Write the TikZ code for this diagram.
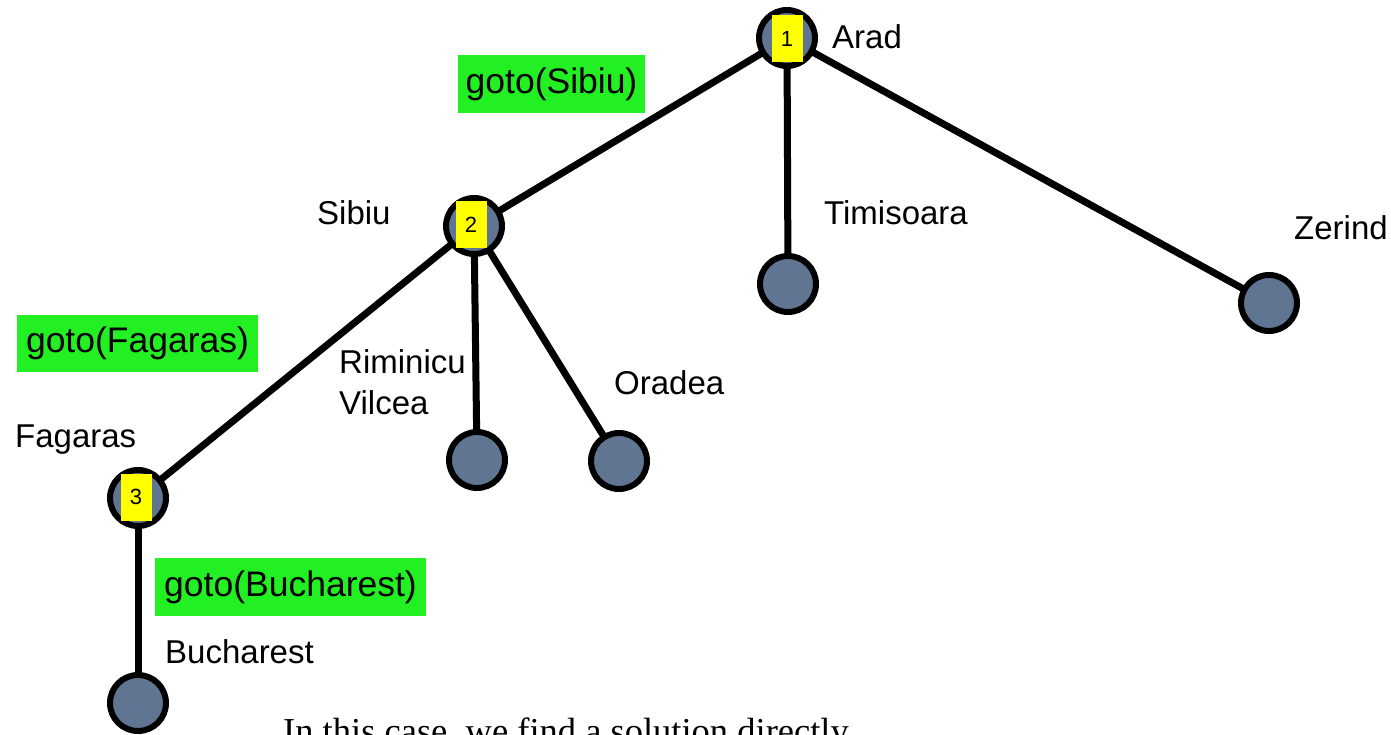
\documentclass[tikz,border=0pt]{standalone}
\usepackage{fontspec}
\setmainfont{Liberation Sans}
\newfontfamily\captionserif{Liberation Serif}
\definecolor{nodefill}{HTML}{5F7591}
\definecolor{actiongreen}{HTML}{22F022}
\definecolor{orderyellow}{HTML}{FFFF00}
\begin{document}
\begin{tikzpicture}[x=1pt,y=-1pt,
  city/.style={circle,draw=black,line width=6pt,fill=nodefill,minimum size=56pt,inner sep=0pt},
  edge/.style={line width=7pt,black},
  order/.style={fill=orderyellow,minimum width=31pt,minimum height=47pt,inner sep=0pt,font=\fontsize{22}{24}\selectfont},
  action/.style={fill=actiongreen,inner sep=0pt,font=\fontsize{35.5}{38}\selectfont},
  lbl/.style={font=\fontsize{33}{41}\selectfont,inner sep=0pt}]
\useasboundingbox (0,0) rectangle (1391,735);
\clip (0,0) rectangle (1391,735);

% tree nodes
\coordinate (aradC) at (787,38);
\coordinate (sibiuC) at (474,226);
\coordinate (timC) at (788,284);
\coordinate (zerC) at (1269,303);
\coordinate (rimC) at (477,460);
\coordinate (oraC) at (619,461);
\coordinate (fagC) at (138,498);
\coordinate (bucC) at (138,703);

% edges
\draw[edge] (aradC) -- (sibiuC);
\draw[edge] (aradC) -- (timC);
\draw[edge] (aradC) -- (zerC);
\draw[edge] (sibiuC) -- (rimC);
\draw[edge] (sibiuC) -- (oraC);
\draw[edge] (sibiuC) -- (fagC);
\draw[edge] (fagC) -- (bucC);

\node[city] (arad) at (aradC) {};
\node[city] (sibiu) at (sibiuC) {};
\node[city] (tim) at (timC) {};
\node[city] (zer) at (zerC) {};
\node[city] (rim) at (rimC) {};
\node[city] (ora) at (oraC) {};
\node[city] (fag) at (fagC) {};
\node[city] (buc) at (bucC) {};

% expansion order
\node[order] (o1) at (787,39) {1};
\node[order] (o2) at (471,225) {2};
\node[order] (o3) at (136,497) {3};

% city names
\node[lbl,anchor=west] (larad) at (832,37) {Arad};
\node[lbl,anchor=west] (lsibiu) at (317,213) {Sibiu};
\node[lbl,anchor=west] (ltim) at (824,213) {Timisoara};
\node[lbl,anchor=west] (lzer) at (1294,228) {Zerind};
\node[lbl,anchor=west,align=left] (lrim) at (339,382) {Riminicu\\Vilcea};
\node[lbl,anchor=west] (lora) at (614,383) {Oradea};
\node[lbl,anchor=west] (lfag) at (15,440) {Fagaras};
\node[lbl,anchor=west] (lbuc) at (165,652) {Bucharest};

% actions
\node[action,minimum width=187pt,minimum height=58pt] (a1) at (551.5,84) {goto(Sibiu)};
\node[action,minimum width=241pt,minimum height=57pt] (a2) at (137.5,343.5) {goto(Fagaras)};
\node[action,minimum width=271pt,minimum height=58pt] (a3) at (290.5,587) {goto(Bucharest)};

% caption
\node[anchor=base west,inner sep=0pt,font=\captionserif\fontsize{36.5}{40}\selectfont] (cap) at (283,743) {In this case, we find a solution directly};
\end{tikzpicture}
\end{document}
